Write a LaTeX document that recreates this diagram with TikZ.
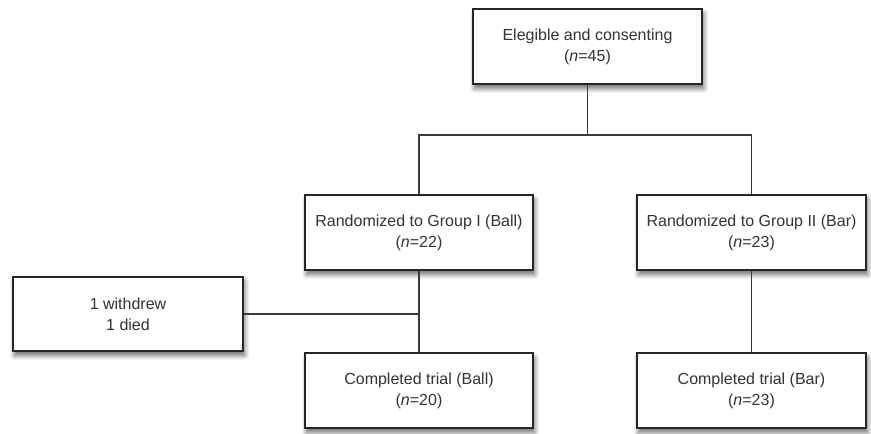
\documentclass[tikz,border=0pt]{standalone}
\usepackage{fontspec}
\setmainfont{Liberation Sans}
\usetikzlibrary{shadows.blur}
\definecolor{txt}{HTML}{333333}
\definecolor{ln}{HTML}{3A3A3A}
\tikzset{
  box/.style={draw=black!85, line width=0.6pt, fill=white, minimum width=114pt, minimum height=37.5pt,
    align=center, inner sep=0pt, text=txt, font=\fontsize{8}{10.5}\selectfont,
    blur shadow={shadow xshift=0.8pt, shadow yshift=-2.2pt, shadow blur steps=6, shadow blur radius=2.5pt, shadow opacity=60}},
  conn/.style={draw=ln, line width=0.6pt}
}
\begin{document}
\begin{tikzpicture}[x=0.5pt,y=-0.5pt]
\useasboundingbox (0,0) rectangle (871,433);
\node[box, minimum width=114.5pt] (top) at (587.5,46.5) {Elegible and consenting\\(\textit{n}=45)};
\node[box] (ml) at (419,232.5) {Randomized to Group I (Ball)\\(\textit{n}=22)};
\node[box, minimum width=114.5pt] (mr) at (751.5,232.5) {Randomized to Group II (Bar)\\(\textit{n}=23)};
\node[box, minimum width=115pt, minimum height=37pt] (side) at (128,314) {1 withdrew\\1 died};
\node[box] (bl) at (419,390.5) {Completed trial (Ball)\\(\textit{n}=20)};
\node[box, minimum width=114.5pt] (br) at (751.5,390.5) {Completed trial (Bar)\\(\textit{n}=23)};
\coordinate (j) at (587.5,135);
\coordinate (jl) at (419,135);
\coordinate (jr) at (751.5,135);
\draw[conn] (top.south) -- (j);
\draw[conn] (ml.north) -- (jl) -- (jr) -- (mr.north);
\draw[conn] (side.east) -- (side.east -| ml.south);
\draw[conn] (ml.south) -- (bl.north);
\draw[conn] (mr.south) -- (br.north);
\end{tikzpicture}
\end{document}
